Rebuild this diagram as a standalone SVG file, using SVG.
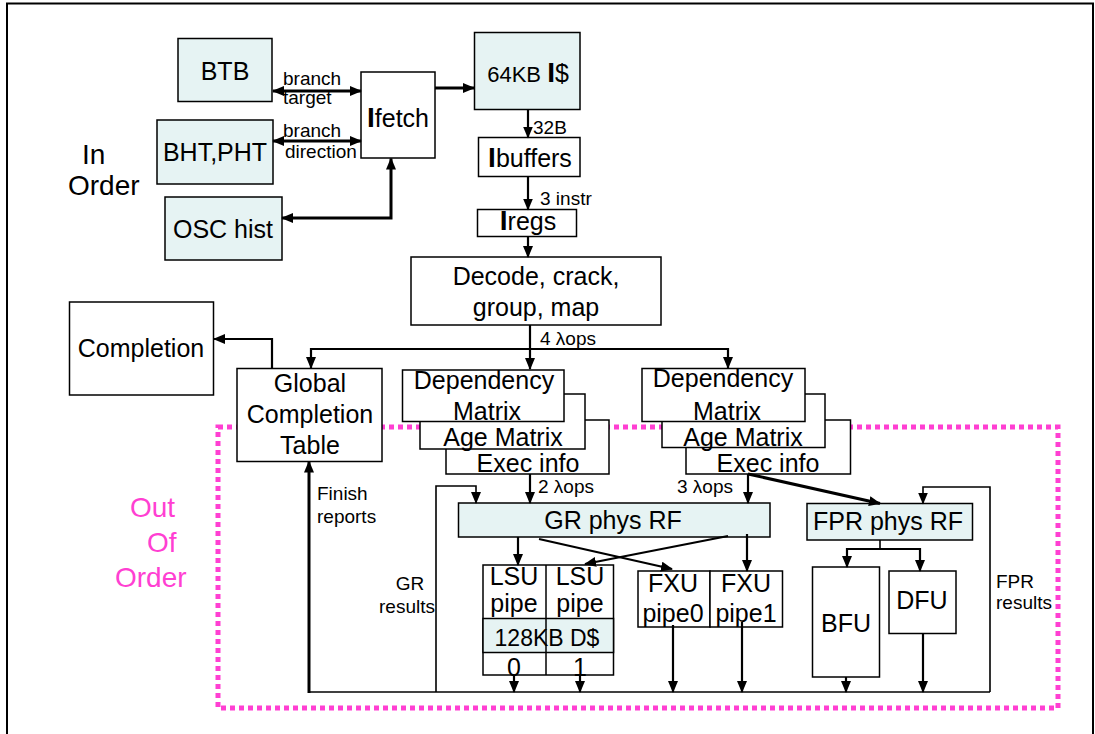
<svg xmlns="http://www.w3.org/2000/svg" width="1095" height="734" viewBox="0 0 1095 734">
  <defs>
    <marker id="ah" viewBox="0 0 12 10" refX="11" refY="5" markerWidth="12" markerHeight="10" markerUnits="userSpaceOnUse" orient="auto-start-reverse">
      <path d="M0,0 L12,5 L0,10 z" fill="#000"/>
    </marker>
    <style>
      text { font-family: "Liberation Sans", Arial, sans-serif; fill: #000; }
      .big { font-size: 25px; }
      .mid { font-size: 23px; }
      .lbl { font-size: 19px; }
      .side { font-size: 28px; }
      .pink { fill: #ff3fd2; }
      .c { text-anchor: middle; }
      .box { fill: #fff; stroke: #000; stroke-width: 1.5; }
      .blue { fill: #e6f3f3; stroke: #000; stroke-width: 1.5; }
      .w3 { fill: none; stroke: #000; stroke-width: 3; }
      .w2 { fill: none; stroke: #000; stroke-width: 2.2; }
      .w1 { fill: none; stroke: #000; stroke-width: 1.6; }
      .ib { font-weight: bold; font-size: 28px; }
    </style>
  </defs>

  <rect width="1095" height="734" fill="#fff"/>

  <!-- page frame -->
  <path d="M7,734 V3.5 H1093 V734" fill="none" stroke="#000" stroke-width="2"/>

  <!-- out-of-order region -->
  <rect id="ooo-region" x="218" y="427" width="840" height="281" fill="none" stroke="#ff3fd2" stroke-width="5" stroke-dasharray="5 4"/>

  <text class="side" x="82" y="164">In</text>
  <text class="side" x="68" y="195">Order</text>
  <text class="side pink" x="130" y="517">Out</text>
  <text class="side pink" x="147" y="552">Of</text>
  <text class="side pink" x="115" y="587">Order</text>

  <!-- front end -->
  <g id="btb">
    <rect class="blue" x="178" y="38.5" width="94" height="63"/>
    <text class="big c" x="225" y="80">BTB</text>
  </g>
  <g id="bht">
    <rect class="blue" x="157" y="120" width="116" height="64"/>
    <text class="big c" x="215" y="161">BHT,PHT</text>
  </g>
  <g id="osc">
    <rect class="blue" x="165" y="197" width="117" height="63"/>
    <text class="big c" x="223" y="238">OSC hist</text>
  </g>
  <g id="ifetch">
    <rect class="box" x="361" y="72" width="74" height="86"/>
    <text class="big c" x="398" y="127"><tspan class="ib">I</tspan>fetch</text>
  </g>
  <g id="icache">
    <rect class="blue" x="474.5" y="32.5" width="105.5" height="77"/>
    <text class="c" x="528" y="82"><tspan style="font-size:22px">64KB </tspan><tspan class="ib">I</tspan><tspan class="big">$</tspan></text>
  </g>
  <g id="ibuffers">
    <rect class="box" x="478.5" y="137.5" width="101.5" height="39"/>
    <text class="big c" x="530" y="167"><tspan class="ib">I</tspan>buffers</text>
  </g>
  <g id="iregs">
    <rect class="box" x="477.5" y="209.5" width="99" height="27"/>
    <text class="big c" x="528" y="230"><tspan class="ib">I</tspan>regs</text>
  </g>
  <g id="decode">
    <rect class="box" x="411" y="257" width="250" height="68"/>
    <text class="big c" x="536" y="285">Decode, crack,</text>
    <text class="big c" x="536" y="316">group, map</text>
  </g>

  <!-- completion -->
  <g id="completion">
    <rect class="box" x="69.5" y="302" width="144" height="93"/>
    <text class="big c" x="141" y="357">Completion</text>
  </g>
  <g id="gct">
    <rect class="box" x="237" y="368.5" width="145" height="93"/>
    <text class="big c" x="310" y="392">Global</text>
    <text class="big c" x="310" y="423">Completion</text>
    <text class="big c" x="310" y="454">Table</text>
  </g>

  <!-- issue queues (stacked matrices) -->
  <g id="gr-queue">
    <rect class="box" x="446" y="420" width="163" height="54"/>
    <text class="big c" x="528" y="472">Exec info</text>
    <rect class="box" x="420" y="394" width="165" height="55"/>
    <text class="big c" x="503" y="446">Age Matrix</text>
    <rect class="box" x="402.5" y="370" width="161.5" height="51.5"/>
    <text class="big c" x="484" y="389">Dependency</text>
    <text class="big c" x="487" y="420">Matrix</text>
  </g>
  <g id="fpr-queue">
    <rect class="box" x="686" y="420" width="164.5" height="54"/>
    <text class="big c" x="768" y="472">Exec info</text>
    <rect class="box" x="662" y="394" width="163" height="53.5"/>
    <text class="big c" x="743" y="446">Age Matrix</text>
    <rect class="box" x="642" y="368.5" width="163" height="53"/>
    <text class="big c" x="723" y="387">Dependency</text>
    <text class="big c" x="727" y="420">Matrix</text>
  </g>

  <!-- register files -->
  <g id="gr-rf">
    <rect class="blue" x="458.5" y="503" width="311.5" height="34"/>
    <text class="big c" x="613" y="529">GR phys RF</text>
  </g>
  <g id="fpr-rf">
    <rect class="blue" x="807" y="503.5" width="165.5" height="36.5"/>
    <text class="big c" x="888" y="530">FPR phys RF</text>
  </g>

  <!-- execution units -->
  <g id="lsu">
    <rect class="box" x="483" y="565" width="130.5" height="110"/>
    <rect class="blue" x="483" y="618.5" width="130.5" height="34"/>
    <line x1="546" y1="565" x2="546" y2="675" stroke="#000" stroke-width="1.5"/>
    <text class="big c" x="514" y="585">LSU</text>
    <text class="big c" x="514" y="612">pipe</text>
    <text class="big c" x="514" y="676">0</text>
    <text class="big c" x="580" y="585">LSU</text>
    <text class="big c" x="580" y="612">pipe</text>
    <text class="big c" x="580" y="676">1</text>
    <text class="mid c" x="547" y="646">128KB D$</text>
  </g>
  <g id="fxu0">
    <rect class="box" x="638" y="571" width="72" height="56"/>
    <text class="big c" x="673" y="592">FXU</text>
    <text class="big c" x="673" y="622">pipe0</text>
  </g>
  <g id="fxu1">
    <rect class="box" x="710" y="571" width="72.5" height="56"/>
    <text class="big c" x="746" y="592">FXU</text>
    <text class="big c" x="746" y="622">pipe1</text>
  </g>
  <g id="bfu">
    <rect class="box" x="812.5" y="567" width="67" height="110"/>
    <text class="big c" x="846" y="632">BFU</text>
  </g>
  <g id="dfu">
    <rect class="box" x="889" y="571" width="67" height="62.5"/>
    <text class="big c" x="922" y="609">DFU</text>
  </g>

  <!-- connectors -->
  <g id="connectors">
    <line class="w3" x1="273" y1="91" x2="361" y2="91" marker-start="url(#ah)" marker-end="url(#ah)"/>
    <line class="w3" x1="273" y1="141" x2="361" y2="141" marker-start="url(#ah)" marker-end="url(#ah)"/>
    <polyline class="w3" points="282,218 391,218 391,158.5" marker-start="url(#ah)" marker-end="url(#ah)"/>
    <line class="w3" x1="435" y1="88" x2="474" y2="88" marker-end="url(#ah)"/>
    <line class="w2" x1="528" y1="109.5" x2="528" y2="137.5" marker-end="url(#ah)"/>
    <line class="w2" x1="528" y1="176.5" x2="528" y2="209.5" marker-end="url(#ah)"/>
    <line class="w2" x1="528" y1="236.5" x2="528" y2="257" marker-end="url(#ah)"/>
    <line class="w2" x1="530" y1="325" x2="530" y2="369" marker-end="url(#ah)"/>
    <polyline class="w2" points="311,368 311,349 728,349 728,368" marker-start="url(#ah)" marker-end="url(#ah)"/>
    <polyline class="w2" points="272,368.5 272,339 214,339" marker-end="url(#ah)"/>

    <line class="w2" x1="530" y1="474" x2="530" y2="503" marker-end="url(#ah)"/>
    <line class="w2" x1="748" y1="474" x2="748" y2="503" marker-end="url(#ah)"/>
    <line class="w3" x1="748" y1="474" x2="880" y2="503.5" marker-end="url(#ah)"/>

    <polyline class="w1" points="436,692 436,486 476,486 476,503" marker-end="url(#ah)"/>
    <polyline class="w1" points="990,692 990,487 923,487 923,503.5" marker-end="url(#ah)"/>
    <line class="w1" x1="309" y1="692" x2="990" y2="692"/>
    <line class="w3" x1="309" y1="693" x2="309" y2="461.5" marker-end="url(#ah)"/>

    <line class="w2" x1="518" y1="537" x2="518" y2="565" marker-end="url(#ah)"/>
    <line class="w2" x1="539" y1="539" x2="672" y2="569" marker-end="url(#ah)"/>
    <line class="w2" x1="728" y1="536" x2="585" y2="564" marker-end="url(#ah)"/>
    <line class="w2" x1="747" y1="534" x2="747" y2="571" marker-end="url(#ah)"/>

    <line class="w2" x1="514" y1="675" x2="514" y2="692" marker-end="url(#ah)"/>
    <line class="w2" x1="580" y1="675" x2="580" y2="692" marker-end="url(#ah)"/>
    <line class="w2" x1="673" y1="625" x2="673" y2="692" marker-end="url(#ah)"/>
    <line class="w2" x1="742" y1="622" x2="742" y2="692" marker-end="url(#ah)"/>

    <line class="w1" x1="880" y1="540" x2="880" y2="549"/>
    <polyline class="w2" points="847,567 847,549 920,549 920,571" marker-start="url(#ah)" marker-end="url(#ah)"/>
    <line class="w2" x1="846" y1="677" x2="846" y2="692" marker-end="url(#ah)"/>
    <line class="w2" x1="923" y1="633.5" x2="923" y2="692" marker-end="url(#ah)"/>
  </g>

  <!-- connector labels -->
  <g id="labels">
    <text class="lbl" x="283" y="85">branch</text>
    <text class="lbl" x="283" y="104">target</text>
    <text class="lbl" x="283" y="137">branch</text>
    <text class="lbl" x="285" y="158">direction</text>
    <text class="lbl" x="533" y="134">32B</text>
    <text class="lbl" x="540" y="205">3 instr</text>
    <text class="lbl" x="540" y="345">4 λops</text>
    <text class="lbl" x="538" y="493">2 λops</text>
    <text class="lbl" x="677" y="493">3 λops</text>
    <text class="lbl" x="317" y="500">Finish</text>
    <text class="lbl" x="317" y="523">reports</text>
    <text class="lbl" x="410" y="590" text-anchor="middle">GR</text>
    <text class="lbl" x="435" y="613" text-anchor="end">results</text>
    <text class="lbl" x="996" y="588">FPR</text>
    <text class="lbl" x="996" y="609">results</text>
  </g>
</svg>
